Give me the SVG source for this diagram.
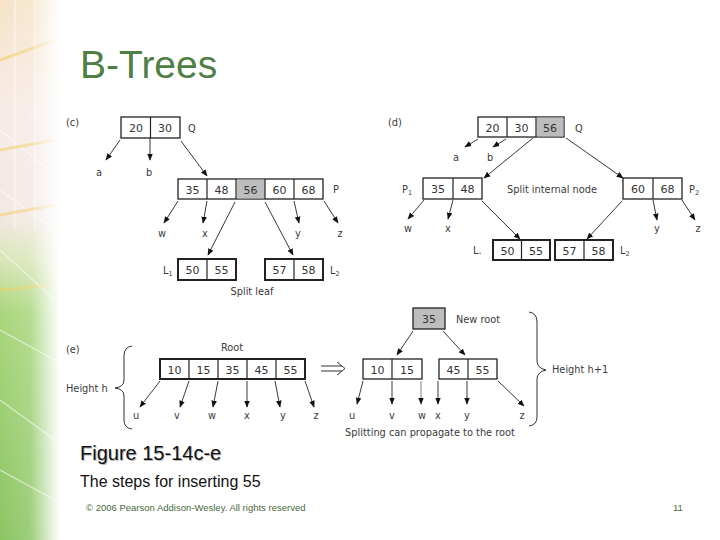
<svg xmlns="http://www.w3.org/2000/svg" width="720" height="540" viewBox="0 0 720 540">
<defs>
<linearGradient id="bgv" x1="0" y1="0" x2="0" y2="1">
<stop offset="0" stop-color="#f6e3c8"/>
<stop offset="0.2" stop-color="#f7ebe6"/>
<stop offset="0.4" stop-color="#f3e8e4"/>
<stop offset="0.48" stop-color="#d9e6b8"/>
<stop offset="0.58" stop-color="#a9d67c"/>
<stop offset="1" stop-color="#8cc565"/>
</linearGradient>
<linearGradient id="fade" x1="0" y1="0" x2="1" y2="0">
<stop offset="0" stop-color="#fff" stop-opacity="0"/>
<stop offset="0.5" stop-color="#fff" stop-opacity="0.15"/>
<stop offset="1" stop-color="#fff" stop-opacity="1"/>
</linearGradient>
<marker id="ah" viewBox="0 0 10 10" refX="9" refY="5" markerWidth="7" markerHeight="7" orient="auto" markerUnits="userSpaceOnUse">
<path d="M0,1 L10,5 L0,9 Z" fill="#111"/>
</marker>
<style>
.t{font-family:"DejaVu Sans","Open Sans",sans-serif;font-size:9.8px;fill:#3a3a3a}
.n{font-family:"DejaVu Sans","Open Sans",sans-serif;font-size:11px;fill:#333;text-anchor:middle}
.box{fill:#fff;stroke:#222;stroke-width:1.3}
.bold{fill:#fff;stroke:#222;stroke-width:2}
.g{fill:#bdbdbd}
.div{stroke:#222;stroke-width:1.2}
.a{stroke:#222;stroke-width:0.9;fill:none;marker-end:url(#ah)}
.br{stroke:#333;stroke-width:1;fill:none}
</style>
</defs>
<rect width="720" height="540" fill="#fff"/>
<g id="background">
<rect x="0" y="0" width="60" height="540" fill="url(#bgv)"/>
<path d="M0,130 L55,175 M0,190 L55,230 M0,250 L55,300 M0,330 L55,360 M0,400 L55,440 M0,470 L55,500 M15,0 L15,230 M35,0 L35,230" stroke="#fff" stroke-width="1.2" opacity="0.6"/>
<path d="M0,60 L55,40 M0,150 L55,140 M0,215 L55,205 M0,290 L55,285" stroke="#f1cf5f" stroke-width="3" opacity="0.55"/>
<rect x="0" y="0" width="60" height="540" fill="url(#fade)"/>
</g>
<text x="80" y="78" font-family="Liberation Sans, Arial, sans-serif" font-size="39" fill="#4e8045">B-Trees</text>

<g id="connectors">
<line class="a" x1="120" y1="140" x2="106" y2="160"/>
<line class="a" x1="150" y1="138" x2="150" y2="160"/>
<line class="a" x1="181" y1="141" x2="207" y2="176"/>
<line class="a" x1="178" y1="201" x2="164" y2="223"/>
<line class="a" x1="207" y1="201" x2="203" y2="223"/>
<line class="a" x1="235" y1="202" x2="208" y2="255"/>
<line class="a" x1="265" y1="202" x2="293" y2="255"/>
<line class="a" x1="294" y1="201" x2="299" y2="223"/>
<line class="a" x1="324" y1="201" x2="338" y2="223"/>

<line class="a" x1="478" y1="139" x2="465" y2="147"/>
<line class="a" x1="506" y1="139" x2="493" y2="147"/>
<line class="a" x1="533" y1="138" x2="484" y2="178"/>
<line class="a" x1="566" y1="138" x2="623" y2="178"/>
<line class="a" x1="424" y1="200" x2="408" y2="219"/>
<line class="a" x1="453" y1="200" x2="448" y2="219"/>
<line class="a" x1="482" y1="201" x2="520" y2="239"/>
<line class="a" x1="622" y1="201" x2="587" y2="239"/>
<line class="a" x1="653" y1="200" x2="657" y2="220"/>
<line class="a" x1="682" y1="200" x2="695" y2="220"/>

<line class="a" x1="160" y1="381" x2="140" y2="407"/>
<line class="a" x1="189" y1="381" x2="180" y2="407"/>
<line class="a" x1="218" y1="381" x2="213" y2="407"/>
<line class="a" x1="247" y1="381" x2="247" y2="407"/>
<line class="a" x1="275" y1="381" x2="280" y2="407"/>
<line class="a" x1="305" y1="381" x2="314" y2="407"/>

<line class="a" x1="413" y1="331" x2="397" y2="355"/>
<line class="a" x1="443" y1="331" x2="465" y2="355"/>
<line class="a" x1="363" y1="381" x2="357" y2="404"/>
<line class="a" x1="392" y1="381" x2="392" y2="404"/>
<line class="a" x1="421" y1="381" x2="421" y2="404" style="stroke:#777"/>
<line class="a" x1="438" y1="381" x2="438" y2="404"/>
<line class="a" x1="467" y1="381" x2="467" y2="404"/>
<line class="a" x1="498" y1="381" x2="524" y2="406"/>

<g id="implies" stroke="#333" stroke-width="1" fill="none">
<line x1="321" y1="366" x2="342" y2="366"/>
<line x1="321" y1="371" x2="342" y2="371"/>
<path d="M337,362 L345,368.5 L337,375"/>
</g>
</g>

<g id="panel-c">
<text class="t" x="66" y="126">(c)</text>
<g id="c-Q">
<rect class="box" x="121" y="117" width="59" height="21"/>
<line class="div" x1="150.5" y1="117" x2="150.5" y2="138"/>
<text class="n" x="136" y="132">20</text><text class="n" x="165" y="132">30</text>
<text class="t" x="188" y="132">Q</text>
</g>
<g id="c-P">
<rect class="box" x="178" y="179" width="145" height="20"/>
<rect class="g" x="236.6" y="179.6" width="28.4" height="18.8"/>
<line class="div" x1="207" y1="179" x2="207" y2="199"/>
<line class="div" x1="236" y1="179" x2="236" y2="199"/>
<line class="div" x1="265" y1="179" x2="265" y2="199"/>
<line class="div" x1="294" y1="179" x2="294" y2="199"/>
<text class="n" x="192.5" y="193.5">35</text><text class="n" x="221.5" y="193.5">48</text><text class="n" x="250.5" y="193.5">56</text><text class="n" x="279.5" y="193.5">60</text><text class="n" x="308.5" y="193.5">68</text>
<text class="t" x="333" y="193">P</text>
</g>
<g id="c-leaves">
<text class="t" x="99" y="176" text-anchor="middle">a</text>
<text class="t" x="149" y="176" text-anchor="middle">b</text>
<text class="t" x="162" y="237" text-anchor="middle">w</text>
<text class="t" x="205" y="237" text-anchor="middle">x</text>
<text class="t" x="298" y="237" text-anchor="middle">y</text>
<text class="t" x="340" y="237" text-anchor="middle">z</text>
</g>
<g id="c-L1">
<rect class="bold" x="178" y="259" width="58" height="21"/>
<line class="div" x1="207" y1="259" x2="207" y2="280"/>
<text class="n" x="192.5" y="274">50</text><text class="n" x="221.5" y="274">55</text>
<text class="t" x="163" y="274">L<tspan font-size="6.5" dy="2">1</tspan></text>
</g>
<g id="c-L2">
<rect class="bold" x="265" y="259" width="58" height="21"/>
<line class="div" x1="294" y1="259" x2="294" y2="280"/>
<text class="n" x="279.5" y="274">57</text><text class="n" x="308.5" y="274">58</text>
<text class="t" x="330" y="274">L<tspan font-size="6.5" dy="2">2</tspan></text>
</g>
<text class="t" x="252" y="295" text-anchor="middle">Split leaf</text>
</g>

<g id="panel-d">
<text class="t" x="388" y="126">(d)</text>
<g id="d-Q">
<rect class="box" x="478" y="117" width="86" height="20"/>
<rect class="g" x="536.6" y="117.6" width="26.8" height="18.8"/>
<line class="div" x1="507" y1="117" x2="507" y2="137"/>
<line class="div" x1="536" y1="117" x2="536" y2="137"/>
<text class="n" x="492.5" y="131.5">20</text><text class="n" x="521.5" y="131.5">30</text><text class="n" x="550" y="131.5">56</text>
<text class="t" x="575" y="132">Q</text>
</g>
<text class="t" x="456" y="161" text-anchor="middle">a</text>
<text class="t" x="490" y="161" text-anchor="middle">b</text>
<g id="d-P1">
<rect class="box" x="423" y="178" width="59" height="21"/>
<line class="div" x1="453" y1="178" x2="453" y2="199"/>
<text class="n" x="438" y="193">35</text><text class="n" x="467.5" y="193">48</text>
<text class="t" x="402" y="193">P<tspan font-size="6.5" dy="2">1</tspan></text>
</g>
<text class="t" x="552" y="193" text-anchor="middle">Split internal node</text>
<g id="d-P2">
<rect class="box" x="623" y="178" width="59" height="21"/>
<line class="div" x1="653" y1="178" x2="653" y2="199"/>
<text class="n" x="638" y="193">60</text><text class="n" x="667.5" y="193">68</text>
<text class="t" x="689" y="193">P<tspan font-size="6.5" dy="2">2</tspan></text>
</g>
<text class="t" x="408" y="232" text-anchor="middle">w</text>
<text class="t" x="448" y="232" text-anchor="middle">x</text>
<text class="t" x="657" y="232" text-anchor="middle">y</text>
<text class="t" x="698" y="232" text-anchor="middle">z</text>
<g id="d-L1">
<rect class="bold" x="493" y="240" width="57" height="20"/>
<line class="div" x1="521.5" y1="240" x2="521.5" y2="260"/>
<text class="n" x="507.5" y="254.5">50</text><text class="n" x="536" y="254.5">55</text>
<text class="t" x="473" y="254">L.</text>
</g>
<g id="d-L2">
<rect class="bold" x="555" y="240" width="58" height="20"/>
<line class="div" x1="584" y1="240" x2="584" y2="260"/>
<text class="n" x="569.5" y="254.5">57</text><text class="n" x="598.5" y="254.5">58</text>
<text class="t" x="620" y="254">L<tspan font-size="6.5" dy="2">2</tspan></text>
</g>
</g>

<g id="panel-e">
<text class="t" x="66" y="353">(e)</text>
<text class="t" x="66" y="392">Height h</text>
<path class="br" d="M132,346 Q124,347 124,356 L124,380 Q124,387 115,388 Q124,389 124,396 L124,420 Q124,428 132,429"/>
<text class="t" x="232" y="351" text-anchor="middle">Root</text>
<g id="e-root">
<rect class="bold" x="160" y="359" width="145" height="20"/>
<line class="div" x1="189" y1="359" x2="189" y2="379"/>
<line class="div" x1="218" y1="359" x2="218" y2="379"/>
<line class="div" x1="247" y1="359" x2="247" y2="379"/>
<line class="div" x1="276" y1="359" x2="276" y2="379"/>
<text class="n" x="174.5" y="373.5">10</text><text class="n" x="203.5" y="373.5">15</text><text class="n" x="232.5" y="373.5">35</text><text class="n" x="261.5" y="373.5">45</text><text class="n" x="290.5" y="373.5">55</text>
</g>
<text class="t" x="136" y="419" text-anchor="middle">u</text>
<text class="t" x="177" y="419" text-anchor="middle">v</text>
<text class="t" x="212" y="419" text-anchor="middle">w</text>
<text class="t" x="247" y="419" text-anchor="middle">x</text>
<text class="t" x="283" y="419" text-anchor="middle">y</text>
<text class="t" x="316" y="419" text-anchor="middle">z</text>

<g id="e-newroot">
<rect class="box" x="413" y="308" width="32" height="21" style="fill:#bdbdbd"/>
<text class="n" x="429" y="323">35</text>
<text class="t" x="456" y="323">New root</text>
</g>
<g id="e-left">
<rect class="box" x="363" y="359" width="59" height="20"/>
<line class="div" x1="392" y1="359" x2="392" y2="379"/>
<text class="n" x="377.5" y="373.5">10</text><text class="n" x="407" y="373.5">15</text>
</g>
<g id="e-right">
<rect class="box" x="439" y="359" width="58" height="20"/>
<line class="div" x1="468" y1="359" x2="468" y2="379"/>
<text class="n" x="453.5" y="373.5">45</text><text class="n" x="482.5" y="373.5">55</text>
</g>
<text class="t" x="352" y="419" text-anchor="middle">u</text>
<text class="t" x="392" y="419" text-anchor="middle">v</text>
<text class="t" x="422" y="419" text-anchor="middle">w</text>
<text class="t" x="438" y="419" text-anchor="middle">x</text>
<text class="t" x="467" y="419" text-anchor="middle">y</text>
<text class="t" x="522" y="419" text-anchor="middle">z</text>
<path class="br" d="M529,312 Q537,313 537,322 L537,361 Q537,368 546,370 Q537,372 537,379 L537,417 Q537,425 529,426"/>
<text class="t" x="552" y="373">Height h+1</text>
<text class="t" x="430" y="436" text-anchor="middle">Splitting can propagate to the root</text>
</g>

<g id="caption">
<text x="81" y="461" font-family="Liberation Sans, Arial, sans-serif" font-size="20" fill="#bbb">Figure 15-14c-e</text>
<text x="80" y="460" font-family="Liberation Sans, Arial, sans-serif" font-size="20" fill="#111">Figure 15-14c-e</text>
<text x="80" y="487" font-family="Liberation Sans, Arial, sans-serif" font-size="16" fill="#111">The steps for inserting 55</text>
<text x="86" y="511" font-family="Liberation Sans, Arial, sans-serif" font-size="9.5" fill="#4a6a40">© 2006 Pearson Addison-Wesley. All rights reserved</text>
<text x="673" y="511" font-family="Liberation Sans, Arial, sans-serif" font-size="9.5" fill="#4a6a40">11</text>
</g>
</svg>
